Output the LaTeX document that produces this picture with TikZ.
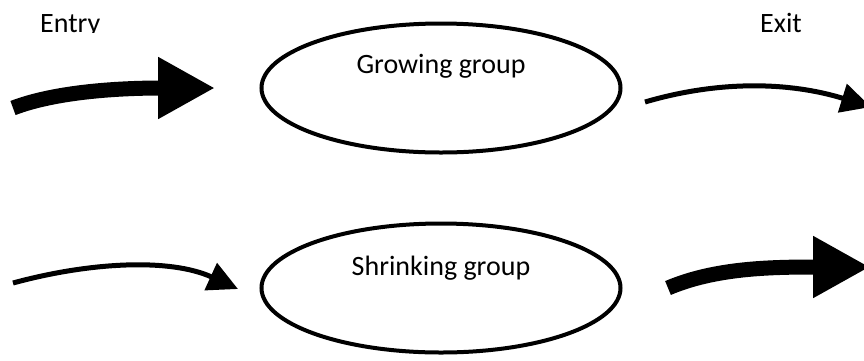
\documentclass[tikz,border=0pt]{standalone}
\usepackage{fontspec}
\setmainfont{Carlito}
\usetikzlibrary{shapes.geometric,arrows.meta}
\tikzset{
  group/.style={
    ellipse,
    draw,
    line width=4pt,
    minimum width=359pt,
    minimum height=129pt
  },
  grouptext/.style={
    font=\fontsize{28}{30}\selectfont,
    anchor=base,
    inner sep=0pt
  },
  bigarrow/.style={
    line width=15pt,
    -{Triangle[length=57pt,width=58pt]}
  },
  smallarrow/.style={
    line width=5pt,
    -{Triangle[length=30pt,width=29pt]}
  }
}

\begin{document}
\begin{tikzpicture}[x=1pt, y=-1pt]
  \clip (0,0) rectangle (864,360);
  % Groups
  \node [group] (grow) at (441,88) {};
  \node [group] (shrink) at (441,288) {};
  \node [grouptext] (growtxt) at (441,73) {Growing group};
  \node [grouptext] (shrinktxt) at (441,275) {Shrinking group};

  % Labels (Entry is cut at the bottom)
  \begin{scope}
    \clip (0,0) rectangle (864,32);
    \node [grouptext, anchor=base west] (entry) at (40,32) {Entry};
  \end{scope}
  \node [grouptext, anchor=base west] (exit) at (760,32) {Exit};

  % Arrow ends
  \coordinate (growin) at (13,108);
  \coordinate (growintip) at (215,88);
  \coordinate (growout) at (645,102);
  \coordinate (growouttip) at (871,107);
  \coordinate (shrinkin) at (13,283);
  \coordinate (shrinkintip) at (238,289);
  \coordinate (shrinkout) at (668,288);
  \coordinate (shrinkouttip) at (870,267);

  % Arrows
  \draw [bigarrow] (growin) .. controls (60,90) and (130,88) .. (growintip);
  \draw [smallarrow] (growout) .. controls (720,80) and (790,82) .. (growouttip);
  \draw [smallarrow] (shrinkin) .. controls (90,262) and (170,258) .. (shrinkintip);
  \draw [bigarrow] (shrinkout) .. controls (715,268) and (770,267) .. (shrinkouttip);
\end{tikzpicture}
\end{document}
